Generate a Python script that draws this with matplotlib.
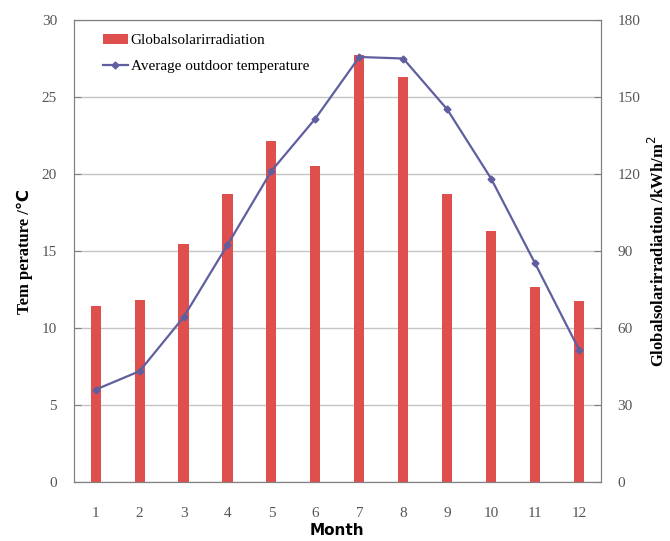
import numpy as np
import matplotlib.pyplot as plt
from matplotlib.patches import Patch
from matplotlib.lines import Line2D

months = np.arange(1, 13)
month_labels = [str(m) for m in months]

# temperature (left axis, deg C)
temperature = [6.0, 7.2, 10.7, 15.4, 20.2, 23.6, 27.6, 27.5, 24.2, 19.7, 14.2, 8.6]
# global solar irradiation (right axis, kWh/m2)
irradiation = [68.6, 71.0, 92.7, 112.1, 133.0, 123.0, 166.2, 157.8, 112.2, 97.8, 76.0, 70.5]

bar_color = "#DE4F4E"
line_color = "#5F5FA0"
gray = "#808080"
serif = "Liberation Serif"

fig = plt.figure(figsize=(6.7, 5.41), dpi=100)
ax = fig.add_axes([0.110, 0.109, 0.787, 0.854])
ax2 = ax.twinx()

# bars + grid on the right axis, kept underneath the line axis
ax2.bar(months, irradiation, width=0.23, color=bar_color, zorder=2)
ax2.set_ylim(0, 180)
ax2.set_yticks(np.arange(0, 181, 30))
ax2.grid(axis="y", color="#C4C4C4", linewidth=1, zorder=0)
ax2.set_axisbelow(True)

ax.set_zorder(ax2.get_zorder() + 1)
ax.patch.set_visible(False)
ax.plot(months, temperature, color=line_color, linewidth=1.6,
        marker="D", markersize=3.5, zorder=3)
ax.set_ylim(0, 30)
ax.set_yticks(np.arange(0, 31, 5))
ax.set_xlim(0.5, 12.5)
ax.set_xticks(months)
ax.set_xticklabels(month_labels)

for a in (ax, ax2):
    for s in a.spines.values():
        s.set_color(gray)
    a.tick_params(axis="y", direction="in", length=5, color=gray,
                  labelcolor="#555555", labelsize=11, pad=12)
    for lab in a.get_yticklabels():
        lab.set_fontfamily(serif)
ax.tick_params(axis="x", length=0, labelcolor="#555555", labelsize=11, pad=18)
for lab in ax.get_xticklabels():
    lab.set_fontfamily(serif)

ax.set_xlabel("Month", fontsize=11, fontweight="bold", labelpad=2)
ax.set_ylabel("Tem perature /\u2103", fontsize=12, fontweight="bold",
              family=[serif, "DejaVu Sans"], labelpad=6)
ax2.set_ylabel("Globalsolarirradiation /kWh/m$^2$", fontsize=12,
               fontweight="bold", family=serif, rotation=90, labelpad=5)

handles = [Patch(facecolor=bar_color, edgecolor="none"),
           Line2D([0], [0], color=line_color, linewidth=1.6, marker="D", markersize=3.5)]
ax.legend(handles, ["Globalsolarirradiation", "Average outdoor temperature"],
          loc="upper left", bbox_to_anchor=(0.03, 1.0), frameon=False,
          prop={"family": serif, "size": 11}, handlelength=1.6,
          handletextpad=0.2, labelspacing=0.8)

fig.savefig("out.png", dpi=100)
